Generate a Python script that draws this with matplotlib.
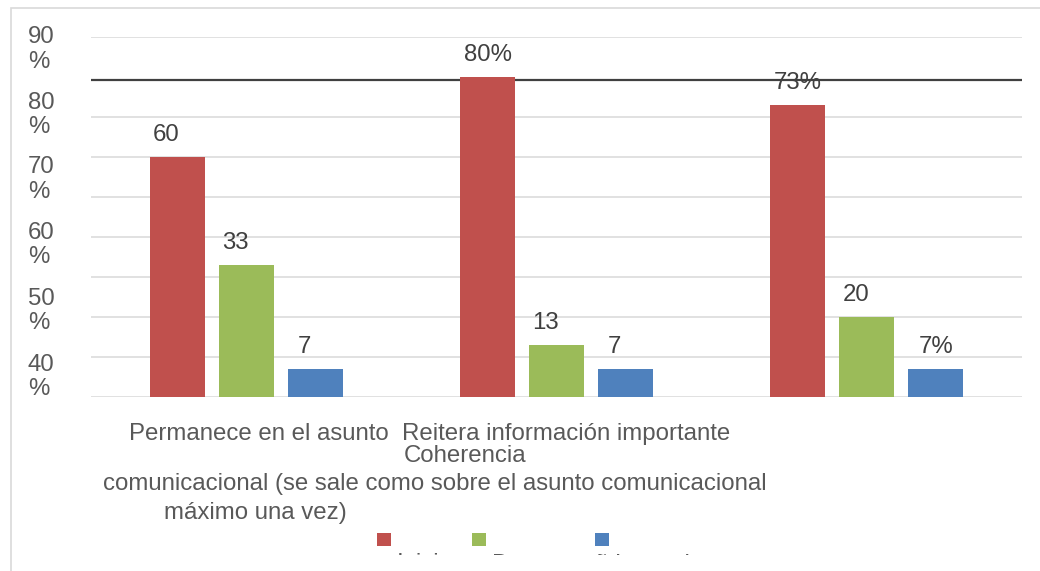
import matplotlib
matplotlib.use("Agg")
import matplotlib.pyplot as plt
from matplotlib.patches import Rectangle
import numpy as np

# ---------------- data ----------------
categories = [
    "Permanece en el asunto comunicacional (se sale como máximo una vez)",
    "Reitera información importante",
    "Coherencia sobre el asunto comunicacional",
]
series_names = ["Inicio", "Desempeño", "Logrado"]
values_red = [60, 80, 73]
values_green = [33, 13, 20]
values_blue = [7, 7, 7]
labels_red = ["60", "80%", "73%"]
labels_green = ["33", "13", "20"]
labels_blue = ["7", "7", "7%"]
ytick_labels = ["40\n%", "50\n%", "60\n%", "70\n%", "80\n%", "90\n%"]
grid_values = [0, 10, 20, 30, 40, 50, 60, 70, 90]
ref_value = 79.2

# ---------------- style / layout ----------------
colors = ["#c0504d", "#9bbb59", "#4f81bd"]
ytick_pos = [5, 21.5, 38, 54.4, 70.5, 86.9]
FONT = "Liberation Sans"
FS = 17.3
W, H = 1040, 571
plt.rcParams["font.family"] = [FONT, "DejaVu Sans"]

fig = plt.figure(figsize=(W / 100, H / 100), dpi=100)


def fx(px):
    return px / W


def fy(py):
    return 1 - py / H


ax = fig.add_axes([fx(91), fy(397), fx(1022) - fx(91), fy(37) - fy(397)])
ax.set_xlim(-0.5, 2.5)
ax.set_ylim(0, 90)

x = np.arange(len(categories))
bw = 0.1772
step = 0.2223
all_vals = [values_red, values_green, values_blue]
all_labels = [labels_red, labels_green, labels_blue]

renderer = fig.canvas.get_renderer()
for i, (vals, labs, col, name) in enumerate(zip(all_vals, all_labels, colors, series_names)):
    xs = x + (i - 1) * step
    ax.bar(xs, vals, width=bw, color=col, label=name, zorder=3)
    for xv, v, lab in zip(xs, vals, labs):
        full = lab if lab.endswith("%") else lab + "%"
        t = ax.text(0, 0, full, fontsize=FS)
        wpx = t.get_window_extent(renderer).width
        t.remove()
        ax.annotate(lab, xy=(xv, v), xytext=(-wpx / 2 * 0.72, 16 * 0.72),
                    textcoords="offset points", ha="left", va="baseline",
                    fontsize=FS, color="#404040", zorder=4)

# gridlines
ax.set_yticks(grid_values, minor=True)
ax.grid(which="minor", axis="y", color="#d9d9d9", lw=1.1, zorder=0)
ax.grid(which="major", visible=False)
ax.axhline(ref_value, color="#404040", lw=1.6, zorder=2)

ax.set_yticks(ytick_pos, labels=ytick_labels)
ax.tick_params(axis="y", which="both", length=0)
ax.tick_params(axis="y", which="major", pad=63 * 0.72, labelsize=FS, labelcolor="#595959")
for lab in ax.get_yticklabels():
    lab.set_horizontalalignment("left")
    lab.set_verticalalignment("center")
    lab.set_linespacing(1.15)
ax.set_xticks([])
for s in ax.spines.values():
    s.set_visible(False)

# category labels (as laid out in the picture)
tc = "#595959"
fig.text(fx(389), fy(440), "Permanece en el asunto", ha="right", va="baseline", fontsize=FS, color=tc)
fig.text(fx(402), fy(440), categories[1], ha="left", va="baseline", fontsize=FS, color=tc)
fig.text(fx(404), fy(462), "Coherencia", ha="left", va="baseline", fontsize=FS, color=tc)
fig.text(fx(435), fy(490), "comunicacional (se sale como sobre el asunto comunicacional",
         ha="center", va="baseline", fontsize=FS, color=tc)
fig.text(fx(255), fy(519), "máximo una vez)", ha="center", va="baseline", fontsize=FS, color=tc)

# legend (clipped at the bottom as in the picture)
sq_left = [377, 472, 595]
for sl, col, name in zip(sq_left, colors, series_names):
    fig.patches.append(Rectangle((fx(sl), fy(546)), 14 / W, 13 / H, transform=fig.transFigure,
                                 facecolor=col, edgecolor="none", zorder=5))
    fig.text(fx(sl + 20), fy(570.5), name, ha="left", va="baseline", fontsize=FS, color=tc, zorder=5)

fig.patches.append(Rectangle((0, -0.1), 1, fy(554.5) + 0.1, transform=fig.transFigure,
                             facecolor="white", edgecolor="none", zorder=8))

# chart frame
fig.patches.append(Rectangle((fx(10.5), -0.5), 2, fy(8.5) + 0.5, transform=fig.transFigure,
                             facecolor="none", edgecolor="#d9d9d9", lw=1.2, zorder=9))

fig.savefig("out.png", dpi=100)
